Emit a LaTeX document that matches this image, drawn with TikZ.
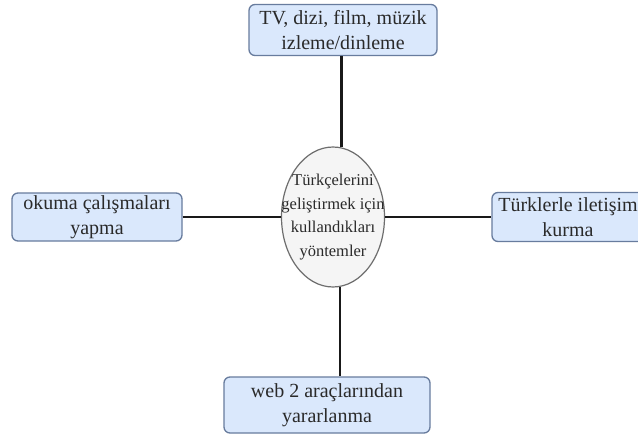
\documentclass[tikz,border=0pt]{standalone}
\usepackage{fontspec}
\setmainfont{Liberation Serif}
\usetikzlibrary{shapes.geometric}
\definecolor{boxfill}{HTML}{DAE8FC}
\definecolor{boxline}{HTML}{687C9E}
\definecolor{ellfill}{HTML}{F5F5F5}
\definecolor{ellline}{HTML}{6E6E6E}
\definecolor{txt}{HTML}{2A2A2A}
\tikzset{
  mbox/.style={draw=boxline, fill=boxfill, line width=1.3pt, rounded corners=6pt,
    align=center, text=txt, inner sep=0pt,
    font=\fontsize{20}{25}\selectfont},
  ellbox/.style={ellipse, draw=ellline, fill=ellfill, line width=1.2pt, inner sep=0pt},
  elltxt/.style={align=center, text=txt, inner sep=0pt, font=\fontsize{16.5}{23.5}\selectfont},
  conn/.style={draw=black!90}
}
\begin{document}
\begin{tikzpicture}[x=1pt,y=-1pt]
\useasboundingbox (0,0) rectangle (638,436);
\fill[white] (0,0) rectangle (638,436);
% centre
\node[ellbox, minimum width=103pt, minimum height=140pt] (ell) at (333,217) {};
% boxes
\node[mbox, minimum width=188pt, minimum height=51pt] (top) at (343,30) {TV, dizi, film, müzik\\izleme/dinleme};
\node[mbox, minimum width=170pt, minimum height=48pt] (lft) at (97,217) {okuma çalışmaları\\yapma};
\node[mbox, minimum width=152pt, minimum height=49pt] (rgt) at (568,217) {Türklerle iletişim\\kurma};
\node[mbox, minimum width=206pt, minimum height=56pt] (bot) at (327,405) {web 2 araçlarından\\yararlanma};
% connectors
\draw[conn, line width=3pt] (ell.83) -- (ell.83 |- top.south);
\draw[conn, line width=1.9pt] (ell.-84) -- (ell.-84 |- bot.north);
\draw[conn, line width=1.1pt] (lft.east) -- (ell.west);
\draw[conn, line width=2.5pt] (ell.east) -- (rgt.west);
% centre text
\node[elltxt] (elltext) at (ell) {Türkçelerini\\geliştirmek için\\kullandıkları\\yöntemler};
\end{tikzpicture}
\end{document}
